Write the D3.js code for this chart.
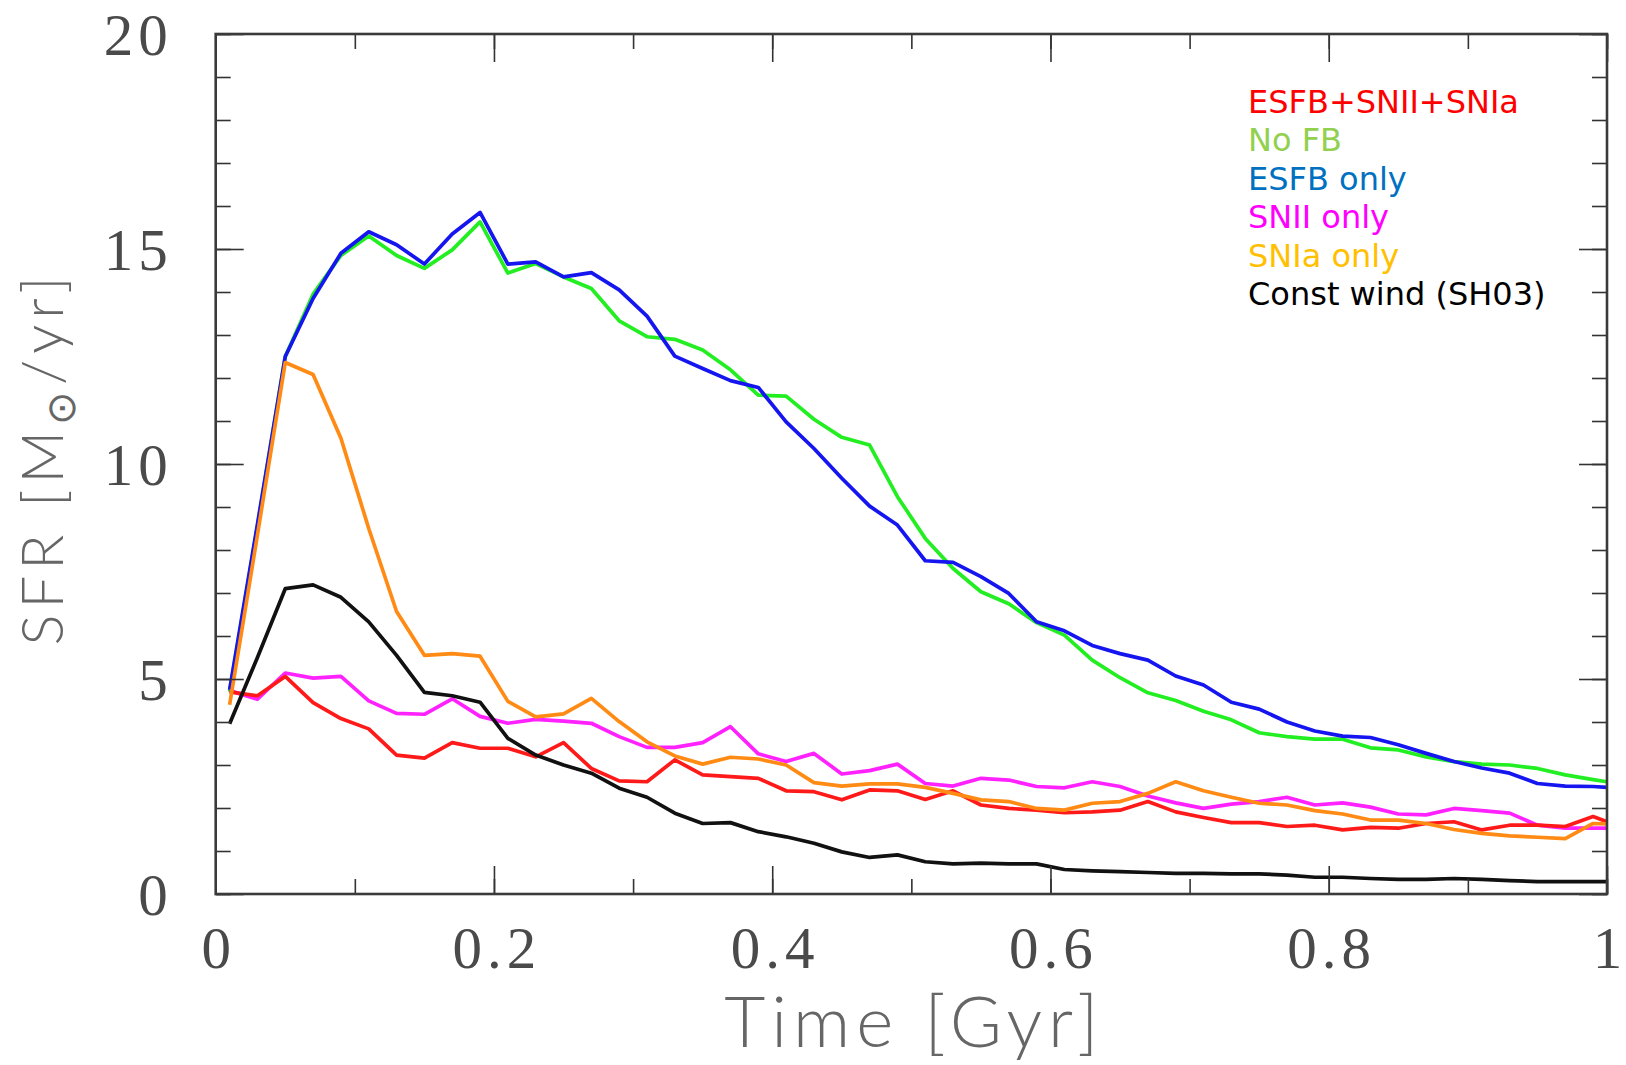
<!DOCTYPE html>
<html>
<head>
  <meta charset="UTF-8">
  <title>SFR vs Time</title>
  <style>
    body { margin: 0; background: #fff; }
    .ticklabel { font-family: "Liberation Serif", serif; font-size: 59px; fill: #4a4a4a; letter-spacing: 5px; }
    .title { font-family: Lato, sans-serif; font-weight: 300; fill: #666; letter-spacing: 6px; }
    .legend text { font-family: "DejaVu Sans", Verdana, sans-serif; font-size: 32px; }
  </style>
</head>
<body>
<svg id="chart"></svg>
<script src="https://d3js.org/d3.v7.min.js"></script>
<script>

// time in Gyr
var times = [0.01, 0.03, 0.05, 0.07, 0.09, 0.11, 0.13, 0.15, 0.17, 0.19,
             0.21, 0.23, 0.25, 0.27, 0.29, 0.31, 0.33, 0.35, 0.37, 0.39,
             0.41, 0.43, 0.45, 0.47, 0.49, 0.51, 0.53, 0.55, 0.57, 0.59,
             0.61, 0.63, 0.65, 0.67, 0.69, 0.71, 0.73, 0.75, 0.77, 0.79,
             0.81, 0.83, 0.85, 0.87, 0.89, 0.91, 0.93, 0.95, 0.97, 0.99,
             1.0]

// SFR in Msun/yr for each run
var sfrAll = [4.7, 4.61, 5.06, 4.45, 4.08, 3.84, 3.23, 3.16, 3.52, 3.39,
              3.39, 3.19, 3.52, 2.92, 2.63, 2.61, 3.12, 2.77, 2.73, 2.69,
              2.4, 2.38, 2.19, 2.42, 2.4, 2.2, 2.4, 2.07, 1.99, 1.95,
              1.89, 1.91, 1.95, 2.15, 1.91, 1.78, 1.66, 1.66, 1.57, 1.6,
              1.49, 1.55, 1.53, 1.64, 1.68, 1.49, 1.6, 1.6, 1.57, 1.8,
              1.68]
var sfrNoFB = [4.7, 8.55, 12.5, 13.95, 14.85, 15.3, 14.85, 14.55, 14.98, 15.63,
               14.44, 14.66, 14.35, 14.08, 13.33, 12.96, 12.9, 12.65, 12.19, 11.6,
               11.58, 11.04, 10.62, 10.44, 9.24, 8.27, 7.57, 7.03, 6.75, 6.31,
               6.02, 5.44, 5.03, 4.68, 4.5, 4.25, 4.05, 3.75, 3.66, 3.6,
               3.6, 3.4, 3.35, 3.19, 3.08, 3.02, 3.0, 2.92, 2.77, 2.66,
               2.61]
var sfrESFB = [4.75, 8.6, 12.5, 13.85, 14.9, 15.4, 15.1, 14.65, 15.35, 15.85,
               14.65, 14.7, 14.35, 14.45, 14.05, 13.44, 12.51, 12.22, 11.94, 11.78,
               10.98, 10.36, 9.67, 9.02, 8.58, 7.75, 7.71, 7.38, 6.99, 6.33,
               6.12, 5.78, 5.59, 5.44, 5.07, 4.86, 4.46, 4.3, 4.0, 3.79,
               3.67, 3.64, 3.47, 3.27, 3.08, 2.93, 2.81, 2.57, 2.51, 2.5,
               2.48]
var sfrSNII = [4.73, 4.53, 5.14, 5.02, 5.06, 4.49, 4.2, 4.18, 4.54, 4.13,
               3.97, 4.06, 4.02, 3.97, 3.66, 3.41, 3.41, 3.52, 3.89, 3.26,
               3.08, 3.27, 2.79, 2.87, 3.02, 2.57, 2.51, 2.69, 2.65, 2.5,
               2.47, 2.61, 2.5, 2.28, 2.12, 1.99, 2.09, 2.15, 2.25, 2.07,
               2.12, 2.02, 1.86, 1.84, 1.99, 1.94, 1.88, 1.6, 1.53, 1.53,
               1.53]
var sfrSNIa = [4.4, 8.35, 12.36, 12.08, 10.6, 8.5, 6.57, 5.55, 5.59, 5.53,
               4.48, 4.12, 4.19, 4.55, 4.01, 3.54, 3.21, 3.02, 3.18, 3.14,
               3.0, 2.59, 2.51, 2.56, 2.56, 2.48, 2.34, 2.19, 2.15, 1.99,
               1.95, 2.11, 2.15, 2.34, 2.61, 2.4, 2.25, 2.11, 2.07, 1.94,
               1.86, 1.72, 1.72, 1.64, 1.5, 1.41, 1.35, 1.32, 1.29, 1.64,
               1.63]
var sfrWind = [3.96, 5.5, 7.1, 7.19, 6.9, 6.33, 5.55, 4.69, 4.61, 4.46,
               3.62, 3.23, 3.0, 2.81, 2.46, 2.25, 1.88, 1.64, 1.66, 1.45,
               1.33, 1.18, 0.98, 0.85, 0.91, 0.75, 0.7, 0.72, 0.7, 0.7,
               0.57, 0.54, 0.52, 0.5, 0.48, 0.48, 0.47, 0.47, 0.44, 0.39,
               0.39, 0.36, 0.34, 0.34, 0.36, 0.34, 0.31, 0.29, 0.29, 0.29,
               0.29]

var xMajor = [0, 0.2, 0.4, 0.6, 0.8, 1]
var xMinor = [0, 0.1, 0.2, 0.3, 0.4, 0.5, 0.6, 0.7, 0.8, 0.9, 1]
var yMajor = [0, 5, 10, 15, 20]
var yMinor = [0, 1, 2, 3, 4, 5, 6, 7, 8, 9, 10, 11, 12, 13, 14, 15, 16, 17, 18, 19, 20]

var legendNames = ["ESFB+SNII+SNIa", "No FB", "ESFB only", "SNII only", "SNIa only", "Const wind (SH03)"]
var legendColors = ["#ff0000", "#92d050", "#0070c0", "#ff00ff", "#ffc000", "#000000"]

// drawing order: back to front
var series = [
  {values: sfrNoFB, color: "#22ee22"},
  {values: sfrESFB, color: "#1515f0"},
  {values: sfrSNII, color: "#ff22ff"},
  {values: sfrAll, color: "#ff1a1a"},
  {values: sfrSNIa, color: "#ff8a14"},
  {values: sfrWind, color: "#111111"}
]

let width = 1626, height = 1065
let pLeft = 215.7, pRight = 1607, pTop = 34, pBottom = 894

let svg = d3.select("#chart")
    .attr("width", width)
    .attr("height", height)

var x = d3.scaleLinear().domain([0, 1]).range([pLeft, pRight])
var y = d3.scaleLinear().domain([0, 20]).range([pBottom, pTop])

svg.append("clipPath").attr("id", "plotclip")
  .append("rect")
    .attr("x", pLeft).attr("y", pTop)
    .attr("width", pRight - pLeft).attr("height", pBottom - pTop)

var line = d3.line()
    .x(function(d, i){ return x(times[i]) })
    .y(function(d){ return y(d) })

svg.append("g")
    .attr("clip-path", "url(#plotclip)")
    .selectAll("path")
    .data(series)
    .enter()
    .append("path")
      .attr("d", function(d){ return line(d.values) })
      .attr("fill", "none")
      .attr("stroke", function(d){ return d.color })
      .attr("stroke-width", 3.7)
      .attr("stroke-linejoin", "round")

// ticks on all four sides, pointing in
function ticks(axis, transform, values, size, labels) {
  var g = svg.append("g")
      .attr("transform", transform)
      .call(axis.tickValues(values).tickSize(-size).tickSizeOuter(0)
          .tickFormat(labels ? d3.format("~g") : ""))
  g.select(".domain").remove()
  g.selectAll(".tick line").attr("stroke", "#333").attr("stroke-width", 1.6)
  return g
}

ticks(d3.axisBottom(x), "translate(0," + pBottom + ")", xMinor, 15, false)
ticks(d3.axisTop(x), "translate(0," + pTop + ")", xMinor, 15, false)
ticks(d3.axisTop(x), "translate(0," + pTop + ")", xMajor, 28, false)
ticks(d3.axisLeft(y), "translate(" + pLeft + ",0)", yMinor, 15, false)
ticks(d3.axisRight(y), "translate(" + pRight + ",0)", yMinor, 15, false)
ticks(d3.axisRight(y), "translate(" + pRight + ",0)", yMajor, 28, false)

var xAxis = ticks(d3.axisBottom(x), "translate(0," + pBottom + ")", xMajor, 28, true)
xAxis.selectAll("text")
    .attr("class", "ticklabel")
    .attr("y", 74).attr("dy", 0)
    .attr("dx", 2.5)

var yAxis = ticks(d3.axisLeft(y), "translate(" + pLeft + ",0)", yMajor, 28, true)
yAxis.selectAll("text")
    .attr("class", "ticklabel")
    .attr("x", -43).attr("dy", "0.34em")

// frame
svg.append("rect")
    .attr("x", pLeft).attr("y", pTop)
    .attr("width", pRight - pLeft).attr("height", pBottom - pTop)
    .attr("fill", "none")
    .attr("stroke", "#3a3a3a")
    .attr("stroke-width", 2.6)

// axis titles
svg.append("text")
    .attr("class", "title")
    .attr("x", (pLeft + pRight) / 2 + 3)
    .attr("y", 1047)
    .attr("text-anchor", "middle")
    .style("font-size", "71px")
    .text("Time [Gyr]")

var yTitle = svg.append("text")
    .attr("class", "title")
    .attr("transform", "translate(63,458) rotate(-90)")
    .attr("text-anchor", "middle")
    .style("font-size", "58px")
yTitle.append("tspan").text("SFR [M")
yTitle.append("tspan").text("⊙").style("font-size", "40px").attr("dy", 12)
yTitle.append("tspan").text("/yr]").attr("dy", -12)

// legend
var legend = svg.append("g").attr("class", "legend")
legend.selectAll("text")
    .data(legendNames)
    .enter()
    .append("text")
      .attr("x", 1248)
      .attr("y", function(d, i){ return 112.7 + i * 38.5 })
      .style("fill", function(d, i){ return legendColors[i] })
      .text(function(d){ return d })

</script>
</body>
</html>
